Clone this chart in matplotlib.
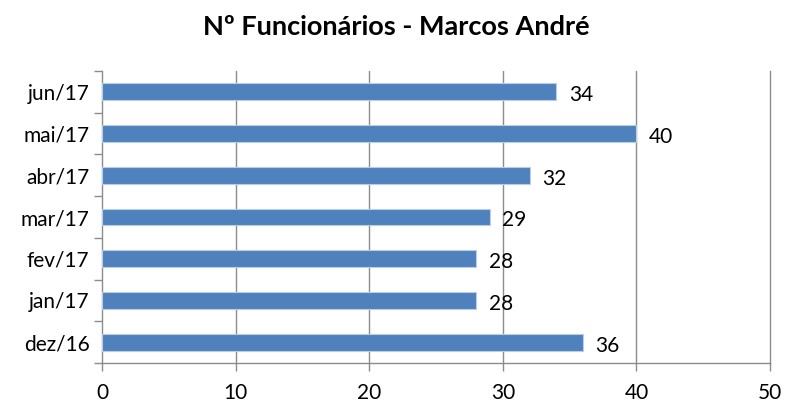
import matplotlib.pyplot as plt
import numpy as np

# dados
meses = ["dez/16", "jan/17", "fev/17", "mar/17", "abr/17", "mai/17", "jun/17"]
funcionarios = [36, 28, 28, 29, 32, 40, 34]
titulo = "Nº Funcionários - Marcos André"

plt.rcParams['font.family'] = ['Lato', 'DejaVu Sans']

fig = plt.figure(figsize=(7.85, 4.03), dpi=100)
ax = fig.add_axes([0.130, 0.099, 0.851, 0.725])

y = np.arange(len(meses))
ax.barh(y, funcionarios, height=0.4, color="#4F81BD", edgecolor="#B9CDE5",
        linewidth=0.8, zorder=3)

# rotulos de valor
for yi, v in zip(y, funcionarios):
    ax.annotate(str(v), (v, yi), xytext=(9, -2.5), textcoords="offset points",
                va="center", ha="left", fontsize=15)

ax.set_xlim(0, 50)
ax.set_ylim(-0.5, len(meses) - 0.5)
ax.set_xticks(range(0, 51, 10))
ax.set_yticks(y)
ax.set_yticklabels(meses)
ax.set_yticks(np.arange(-0.5, len(meses)), minor=True)

ax.grid(axis="x", color="#8C8C8C", linewidth=1, zorder=0)
# so a ultima linha de grade (50) fica sem recorte
ax.get_xgridlines()[-1].set_clip_on(False)
ax.get_xgridlines()[0].set_visible(False)
for s in ["top", "right"]:
    ax.spines[s].set_visible(False)
for s in ["left", "bottom"]:
    ax.spines[s].set_color("#8C8C8C")
    ax.spines[s].set_linewidth(1)

ax.tick_params(axis="y", which="major", length=0, labelsize=15, pad=9)
ax.tick_params(axis="y", which="minor", length=6, color="#8C8C8C", width=1)
ax.tick_params(axis="x", length=6, color="#8C8C8C", width=1, labelsize=15, pad=8)

fig.text(0.505, 0.933, titulo, ha="center", va="center", fontsize=19.5, fontweight="bold")

fig.savefig("out.png", dpi=100)
